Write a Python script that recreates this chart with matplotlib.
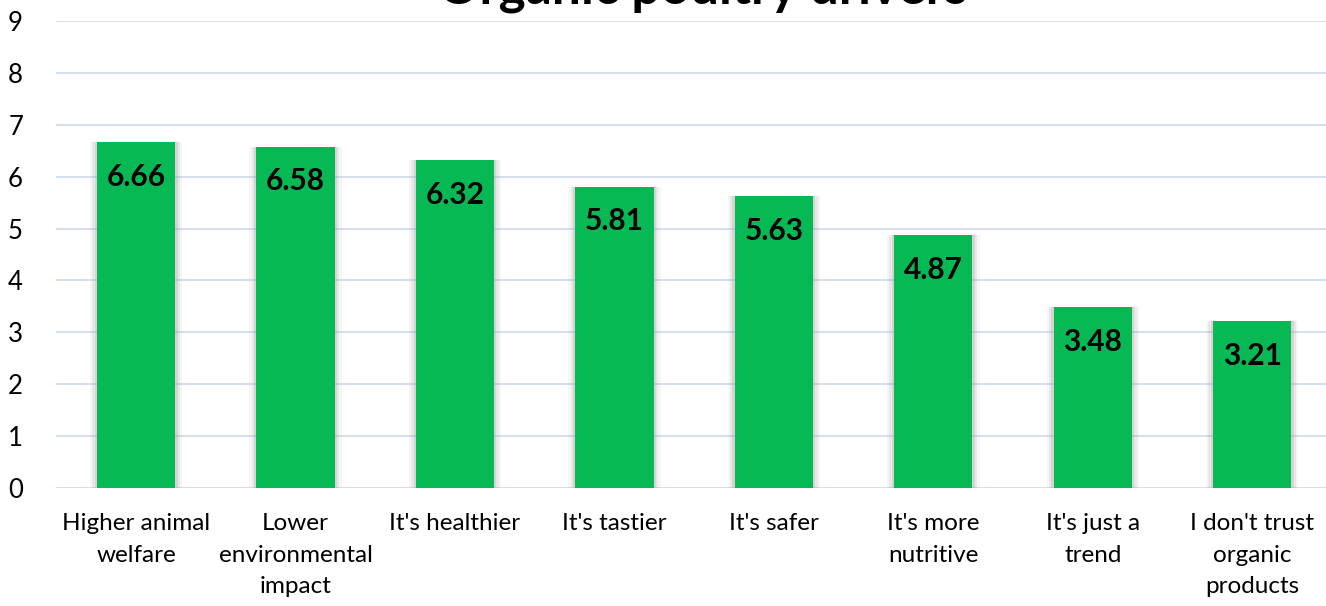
import matplotlib.pyplot as plt

# Средние оценки по мотивам покупки органической птицы
reasons = ["Higher animal\nwelfare", "Lower\nenvironmental\nimpact", "It's healthier",
           "It's tastier", "It's safer", "It's more\nnutritive", "It's just a\ntrend",
           "I don't trust\norganic\nproducts"]
scores = [6.66, 6.58, 6.32, 5.81, 5.63, 4.87, 3.48, 3.21]
y_ticks = list(range(0, 10))

plt.rcParams['font.family'] = ['Lato', 'DejaVu Sans']

fig = plt.figure(figsize=(13.26, 6.06), dpi=100)
ax = fig.add_axes([0.0425, 0.1947, 0.9620, 0.7706])

x = list(range(len(scores)))

# мягкая тень вокруг столбцов
for w, a in [(0.58, 0.08), (0.55, 0.14), (0.52, 0.22)]:
    ax.bar(x, scores, width=w, color='#9a8f8f', alpha=a, zorder=2, linewidth=0)
ax.bar(x, scores, width=0.49, color='#07b955', zorder=3, linewidth=0)

for xi, s in zip(x, scores):
    ax.annotate(f"{s:.2f}", (xi, s), xytext=(0, -15), textcoords='offset points',
                ha='center', va='top', fontsize=21.5, fontweight='bold', zorder=4)

ax.set_xlim(-0.5, 7.5)
ax.set_ylim(0, 9)
ax.set_yticks(y_ticks)
ax.set_xticks(x)
ax.set_xticklabels(reasons, fontsize=17.5, linespacing=1.62)
ax.tick_params(axis='y', length=0, pad=24, labelsize=18.5)
ax.tick_params(axis='x', length=0, pad=18)
for lbl in ax.get_yticklabels():
    lbl.set_horizontalalignment('right')

ax.grid(axis='y', color='#d5e0f1', linewidth=1.4, zorder=0)
ax.set_axisbelow(True)
for sp in ax.spines.values():
    sp.set_visible(False)

fig.text(0.530, 0.979, "Organic poultry drivers", ha='center', va='bottom',
         fontsize=37, fontweight='bold')

fig.savefig("out.png", dpi=100)
